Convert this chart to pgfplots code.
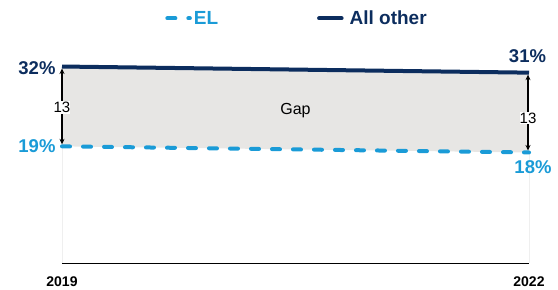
\documentclass[border=0pt]{standalone}
\usepackage{pgfplots}
\pgfplotsset{compat=1.18}
\usepackage{fontspec}
\setmainfont{Liberation Sans}
\usetikzlibrary{arrows.meta}
\definecolor{elblue}{HTML}{1A9BD7}
\definecolor{navy}{HTML}{0C2D5E}
\definecolor{gapgray}{HTML}{E7E6E4}
\definecolor{gridc}{HTML}{EFEFEF}
\begin{document}
\begin{tikzpicture}
\path[use as bounding box] (0,0) rectangle (558bp,290bp);
\begin{axis}[
  at={(62bp,27bp)}, anchor=south west,
  scale only axis, width=467bp, height=245.6bp,
  xmin=2019, xmax=2022, ymin=0, ymax=40,
  axis x line=bottom, axis y line=none,
  axis line style={-, black, line width=1bp},
  xtick={2019,2022}, xticklabels={2019,2022}, major tick length=0,
  xticklabel style={font=\fontsize{14bp}{16bp}\selectfont\bfseries, yshift=-10.5bp},
  ytick=\empty,
  clip=false,
  legend columns=2,
  legend image code/.code={\draw[line cap=round, #1] (0bp,0bp) -- (22.5bp,0bp);},
  legend style={draw=none, fill=none, at={(0.5,1)}, anchor=center, xshift=1.5bp, yshift=-1bp,
    font=\fontsize{19bp}{21bp}\selectfont\bfseries,
    /tikz/every odd column/.append style={column sep=0bp},
    /tikz/every even column/.append style={column sep=97bp}},
]
\addplot[draw=none, fill=gapgray, forget plot] coordinates {(2019,19) (2022,18) (2022,31) (2019,32)} -- cycle;
\addplot[gridc, line width=0.8bp, forget plot] coordinates {(2019,0) (2019,19)};
\addplot[gridc, line width=0.8bp, forget plot] coordinates {(2022,0) (2022,18)};
\addplot[elblue, line width=4bp, line cap=round, dash pattern=on 8bp off 13bp] coordinates {(2019,19) (2022,18)};
\addlegendentry{\textcolor{elblue}{EL}}
\addplot[navy, line width=4bp, line cap=butt] coordinates {(2019,32) (2022,31)};
\addlegendentry{\hspace{4bp}\textcolor{navy}{All other}}

\draw[{Stealth[length=5.5bp,width=5bp]}-{Stealth[length=5.5bp,width=5bp]}, line width=1.1bp, shorten <=2bp, shorten >=2bp]
  (axis cs:2019,32) -- node[pos=0.51, fill=white, inner xsep=0pt, inner ysep=1bp, font=\fontsize{15bp}{17bp}\selectfont]{13} (axis cs:2019,19);
\draw[{Stealth[length=5.5bp,width=5bp]}-{Stealth[length=5.5bp,width=5bp]}, line width=1.1bp, shorten <=2bp, shorten >=2bp]
  ([xshift=-1bp]axis cs:2022,31) -- node[pos=0.57, fill=white, inner xsep=0pt, inner ysep=1bp, font=\fontsize{15bp}{17bp}\selectfont]{13} ([xshift=-1bp]axis cs:2022,18);

\node[anchor=east, text=navy, font=\fontsize{18.5bp}{20bp}\selectfont\bfseries, xshift=-3bp, yshift=-2bp] at (axis cs:2019,32) {32\%};
\node[anchor=east, text=elblue, font=\fontsize{18.5bp}{20bp}\selectfont\bfseries, xshift=-3bp] at (axis cs:2019,19) {19\%};
\node[text=navy, font=\fontsize{18.5bp}{20bp}\selectfont\bfseries, xshift=-1.5bp, yshift=17bp] at (axis cs:2022,31) {31\%};
\node[text=elblue, font=\fontsize{18.5bp}{20bp}\selectfont\bfseries, xshift=4bp, yshift=-14.5bp] at (axis cs:2022,18) {18\%};
\node[font=\fontsize{16bp}{18bp}\selectfont] at (axis cs:2020.5,24.9) {Gap};
\end{axis}
\end{tikzpicture}
\end{document}
